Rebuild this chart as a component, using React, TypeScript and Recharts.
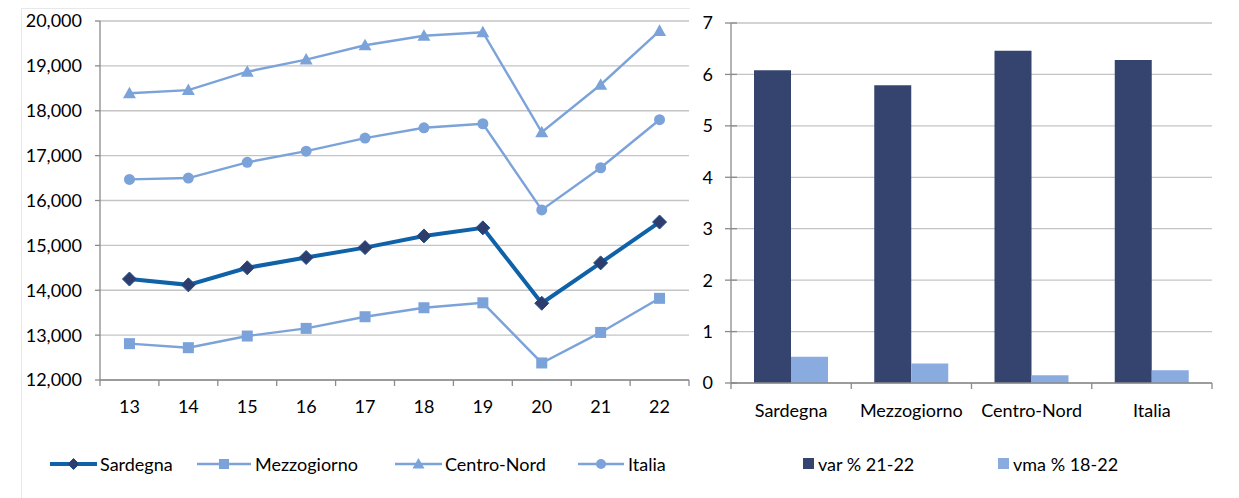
import React from "react"
import { LineChart, Line, BarChart, Bar, XAxis, YAxis, CartesianGrid } from "recharts"

// --- data ---
const years = ["13", "14", "15", "16", "17", "18", "19", "20", "21", "22"]
const sardegna = [14250, 14120, 14500, 14730, 14950, 15210, 15390, 13710, 14610, 15520]
const mezzogiorno = [12810, 12720, 12980, 13150, 13410, 13610, 13720, 12380, 13060, 13820]
const centroNord = [18390, 18460, 18870, 19140, 19460, 19670, 19750, 17520, 18580, 19780]
const italia = [16470, 16500, 16850, 17100, 17390, 17620, 17710, 15790, 16730, 17800]
const lineTicks = [12000, 13000, 14000, 15000, 16000, 17000, 18000, 19000, 20000]

const areas = ["Sardegna", "Mezzogiorno", "Centro-Nord", "Italia"]
const var2122 = [6.08, 5.79, 6.46, 6.28]
const vma1822 = [0.51, 0.38, 0.15, 0.25]
const barTicks = [0, 1, 2, 3, 4, 5, 6, 7]

const lineData = years.map((y, i) => ({
  year: y,
  sardegna: sardegna[i],
  mezzogiorno: mezzogiorno[i],
  centroNord: centroNord[i],
  italia: italia[i],
}))

const barData = areas.map((a, i) => ({ area: a, var: var2122[i], vma: vma1822[i] }))

// --- styles ---
const FONT = "Lato, 'Open Sans', sans-serif"
const DARK_LINE = "#0f62a8"
const DIAMOND = "#2d3e6e"
const LIGHT = "#7ba3d9"
const BAR_DARK = "#35446f"
const BAR_LIGHT = "#89abe0"
const AXIS = "#8a8a8a"
const GRID = "#c4c4c4"

const LINE_W = 700
const LINE_PLOT_W = 589
const LINE_STEP = LINE_PLOT_W / years.length

const BAR_W = 539
const BAR_PLOT_W = 481
const BAR_STEP = BAR_PLOT_W / areas.length

const tickStyle = { fontFamily: FONT, fontSize: 18, fill: "#000" }

const Diamond = ({ cx, cy, r = 7 }: any) => (
  <polygon
    points={`${cx},${cy - r} ${cx + r},${cy} ${cx},${cy + r} ${cx - r},${cy}`}
    fill={DIAMOND}
    stroke="#1d4f8c"
    strokeWidth={1}
  />
)
const Square = ({ cx, cy, r = 5.5 }: any) => (
  <rect x={cx - r} y={cy - r} width={2 * r} height={2 * r} fill={LIGHT} />
)
const Triangle = ({ cx, cy, r = 6.5 }: any) => (
  <polygon points={`${cx},${cy - r} ${cx + r},${cy + r * 0.77} ${cx - r},${cy + r * 0.77}`} fill={LIGHT} />
)
const Circle = ({ cx, cy, r = 5.5 }: any) => <circle cx={cx} cy={cy} r={r} fill={LIGHT} />

// category-boundary ticks (excel style)
const makeBoundaryTick = (step: number, count: number, tickSize: number, tickMargin: number) => (props: any) => {
  const { x, y, payload, index } = props
  const axisY = y - tickSize - tickMargin
  const half = step / 2
  return (
    <g>
      <line x1={x - half} x2={x - half} y1={axisY} y2={axisY + tickSize} stroke={AXIS} strokeWidth={1.3} />
      {index === count - 1 && (
        <line x1={x + half} x2={x + half} y1={axisY} y2={axisY + tickSize} stroke={AXIS} strokeWidth={1.3} />
      )}
      <text x={x} y={y} dy="0.71em" textAnchor="middle" {...tickStyle}>
        {payload.value}
      </text>
    </g>
  )
}

const LineXTick = makeBoundaryTick(LINE_STEP, years.length, 6, 14)
const BarXTick = makeBoundaryTick(BAR_STEP, areas.length, 6, 15)

// y ticks crossing the axis
const BarYTick = (props: any) => {
  const { x, y, payload } = props
  const axisX = x + 6 + 12
  return (
    <g>
      <line x1={axisX - 6} x2={axisX + 6} y1={y} y2={y} stroke={AXIS} strokeWidth={1.3} />
      <text x={x} y={y} dy="0.36em" textAnchor="end" {...tickStyle}>
        {payload.value}
      </text>
    </g>
  )
}

const LegendLine = ({ left, width, color, stroke, marker }: any) => {
  const cy = 11
  const cx = width / 2
  return (
    <svg style={{ position: "absolute", left, top: 453 }} width={width} height={22}>
      <line x1={0} x2={width} y1={cy} y2={cy} stroke={color} strokeWidth={stroke} />
      {marker === "diamond" && <Diamond cx={cx} cy={cy} r={5.5} />}
      {marker === "square" && <Square cx={cx} cy={cy} r={5} />}
      {marker === "triangle" && <Triangle cx={cx} cy={cy} r={6} />}
      {marker === "circle" && <Circle cx={cx} cy={cy} r={5} />}
    </svg>
  )
}

const LegendText = ({ left, children }: any) => (
  <div
    style={{
      position: "absolute",
      left,
      top: 453,
      height: 22,
      lineHeight: "22px",
      fontFamily: FONT,
      fontSize: 18,
      color: "#000",
      whiteSpace: "nowrap",
    }}
  >
    {children}
  </div>
)

const LegendBox = ({ left, color }: any) => (
  <div style={{ position: "absolute", left, top: 458, width: 11, height: 11, background: color }} />
)

export default function App() {
  return (
    <div style={{ position: "absolute", left: 0, top: 0, width: 1239, height: 498, background: "#fff", overflow: "hidden" }}>
      <div
        style={{
          position: "absolute",
          left: 21,
          top: 8,
          width: 668,
          height: 500,
          borderTop: "1px solid #e8e8e8",
          borderLeft: "1px solid #e8e8e8",
        }}
      />

      <div style={{ position: "absolute", left: 0, top: 0 }}>
        <LineChart width={LINE_W} height={498} data={lineData} margin={{ top: 21, right: 11, bottom: 78, left: 0 }}>
          <CartesianGrid vertical={false} stroke={GRID} strokeWidth={1.3} />
          <XAxis
            dataKey="year"
            height={40}
            padding={{ left: LINE_STEP / 2, right: LINE_STEP / 2 }}
            axisLine={{ stroke: AXIS, strokeWidth: 1.3 }}
            tickLine={false}
            tickSize={6}
            tickMargin={14}
            tick={LineXTick}
            interval={0}
          />
          <YAxis
            width={100}
            domain={[12000, 20000]}
            ticks={lineTicks}
            interval={0}
            axisLine={{ stroke: AXIS, strokeWidth: 1.3 }}
            tickLine={{ stroke: AXIS, strokeWidth: 1.3 }}
            tickSize={5}
            tickMargin={13}
            tick={tickStyle}
            tickFormatter={(v: number) => v.toLocaleString("en-US")}
          />
          <Line
            dataKey="mezzogiorno"
            stroke={LIGHT}
            strokeWidth={2.4}
            dot={(p: any) => <Square key={`m-${p.index}`} cx={p.cx} cy={p.cy} />}
            activeDot={false}
            isAnimationActive={false}
          />
          <Line
            dataKey="centroNord"
            stroke={LIGHT}
            strokeWidth={2.4}
            dot={(p: any) => <Triangle key={`c-${p.index}`} cx={p.cx} cy={p.cy} />}
            activeDot={false}
            isAnimationActive={false}
          />
          <Line
            dataKey="italia"
            stroke={LIGHT}
            strokeWidth={2.4}
            dot={(p: any) => <Circle key={`i-${p.index}`} cx={p.cx} cy={p.cy} />}
            activeDot={false}
            isAnimationActive={false}
          />
          <Line
            dataKey="sardegna"
            stroke={DARK_LINE}
            strokeWidth={4}
            dot={(p: any) => <Diamond key={`s-${p.index}`} cx={p.cx} cy={p.cy} />}
            activeDot={false}
            isAnimationActive={false}
          />
        </LineChart>
      </div>

      <LegendLine left={50} width={47} color={DARK_LINE} stroke={4} marker="diamond" />
      <LegendText left={100}>Sardegna</LegendText>
      <LegendLine left={197} width={54} color={LIGHT} stroke={2.4} marker="square" />
      <LegendText left={255}>Mezzogiorno</LegendText>
      <LegendLine left={395} width={47} color={LIGHT} stroke={2.4} marker="triangle" />
      <LegendText left={445}>Centro-Nord</LegendText>
      <LegendLine left={578} width={46} color={LIGHT} stroke={2.4} marker="circle" />
      <LegendText left={628}>Italia</LegendText>

      <div style={{ position: "absolute", left: 700, top: 0 }}>
        <BarChart
          width={BAR_W}
          height={498}
          data={barData}
          margin={{ top: 23, right: 27, bottom: 75, left: 0 }}
          barGap={0}
        >
          <CartesianGrid vertical={false} stroke={GRID} strokeWidth={1.3} />
          <XAxis
            dataKey="area"
            height={40}
            axisLine={{ stroke: AXIS, strokeWidth: 1.3 }}
            tickLine={false}
            tickSize={6}
            tickMargin={15}
            tick={BarXTick}
            interval={0}
          />
          <YAxis
            width={31}
            domain={[0, 7]}
            ticks={barTicks}
            interval={0}
            axisLine={{ stroke: AXIS, strokeWidth: 1.3 }}
            tickLine={false}
            tickSize={6}
            tickMargin={12}
            tick={BarYTick}
          />
          <Bar dataKey="var" fill={BAR_DARK} barSize={37} isAnimationActive={false} />
          <Bar dataKey="vma" fill={BAR_LIGHT} barSize={37} isAnimationActive={false} />
        </BarChart>
      </div>

      <LegendBox left={803} color={BAR_DARK} />
      <LegendText left={818}>var % 21-22</LegendText>
      <LegendBox left={998} color={BAR_LIGHT} />
      <LegendText left={1013}>vma % 18-22</LegendText>
    </div>
  )
}
